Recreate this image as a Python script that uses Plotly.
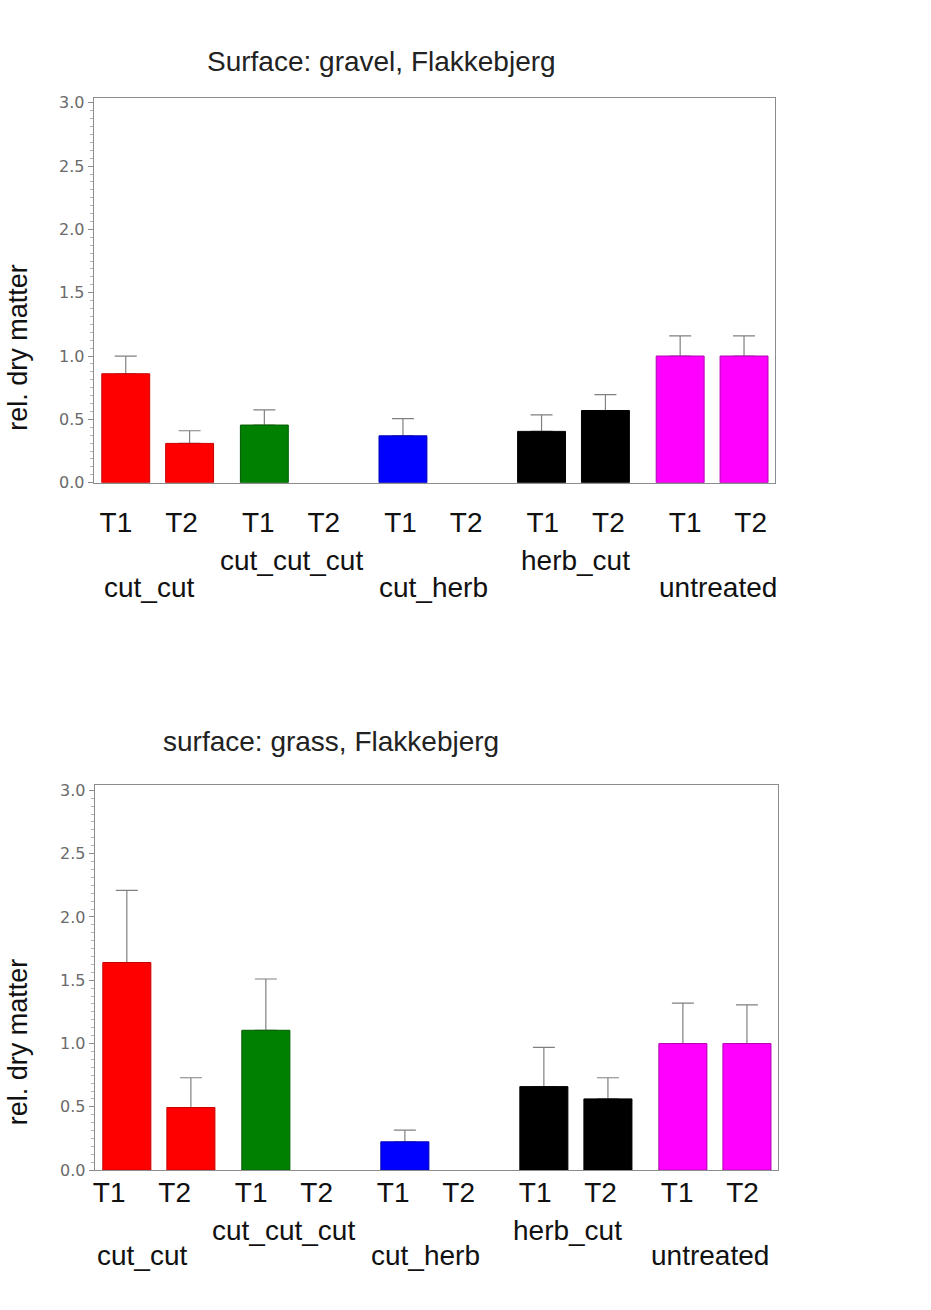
import plotly.graph_objects as go

# ---- data ----
groups = ["cut_cut", "cut_cut_cut", "cut_herb", "herb_cut", "untreated"]
times = ["T1", "T2"]
gravel_mean = [0.86, 0.31, 0.455, None, 0.37, None, 0.405, 0.57, 1.0, 1.0]
gravel_err = [0.14, 0.10, 0.12, None, 0.135, None, 0.13, 0.125, 0.16, 0.16]
grass_mean = [1.64, 0.495, 1.105, None, 0.224, None, 0.66, 0.563, 1.0, 1.0]
grass_err = [0.57, 0.235, 0.405, None, 0.092, None, 0.31, 0.167, 0.32, 0.305]
bar_colors = ["#FF0000", "#FF0000", "#008000", "#008000", "#0000FF", "#0000FF",
              "#000000", "#000000", "#FF00FF", "#FF00FF"]
edge_colors = ["#C80000", "#C80000", "#005A00", "#005A00", "#0000B4", "#0000B4",
               "#000000", "#000000", "#B000B0", "#B000B0"]
titles = ["Surface: gravel, Flakkebjerg", "surface: grass, Flakkebjerg"]
y_ticks = [0.0, 0.5, 1.0, 1.5, 2.0, 2.5, 3.0]

W, H = 931, 1310
GSTEP = 2.17  # group spacing in bar-slot units
xpos = [g * GSTEP + s for g in range(len(groups)) for s in range(len(times))]
xtext = [t for g in groups for t in times]
gcenter = [g * GSTEP + 0.5 for g in range(len(groups))]

FONT = "Liberation Sans, Arial, sans-serif"
TICKFONT = "DejaVu Sans, sans-serif"


def py(ypx):
    """target pixel row -> paper fraction (with small vertical calibration)"""
    return 1 - ((ypx - 3) / 0.99) / H


fig = go.Figure()

panels = [
    dict(mean=gravel_mean, err=gravel_err, title=titles[0],
         xdom=[92 / W, 775 / W], ydom=[py(482), py(96.8)],
         standoff=15, title_xy=(380, 61), ylab_y=346,
         grp_y=[587, 560], lab_scale=1.0266, lab_shift=-0.153),
    dict(mean=grass_mean, err=grass_err, title=titles[1],
         xdom=[93 / W, 778 / W], ydom=[py(1170), py(784.8)],
         standoff=-3, title_xy=(330, 741), ylab_y=1041,
         grp_y=[1255, 1230], lab_scale=1.0214, lab_shift=-0.275),
]

annotations = []
for i, p in enumerate(panels):
    sfx = "" if i == 0 else "2"
    xa, ya = "x" + sfx, "y" + sfx
    # error-bar carrier (drawn first so the real bars hide the lower caps)
    fig.add_trace(go.Bar(
        x=xpos, y=p["mean"], width=0.75,
        marker=dict(color="rgba(0,0,0,0)", line=dict(width=0)),
        error_y=dict(type="data", symmetric=False, array=p["err"],
                     arrayminus=[0 if v is not None else None for v in p["err"]],
                     color="#808080", thickness=1.2, width=11),
        xaxis=xa, yaxis=ya, showlegend=False, hoverinfo="skip",
    ))
    # visible bars
    fig.add_trace(go.Bar(
        x=xpos, y=p["mean"], width=0.75,
        marker=dict(color=bar_colors, line=dict(color=edge_colors, width=1)),
        xaxis=xa, yaxis=ya, showlegend=False,
    ))
    labpos = [v * p["lab_scale"] + p["lab_shift"] for v in xpos]
    fig.update_layout(**{
        "xaxis" + sfx: dict(
            domain=p["xdom"], range=[-0.5, 10.17], anchor=ya,
            tickmode="array", tickvals=labpos, ticktext=xtext,
            ticks="", showline=True, linecolor="#8c8c8c", linewidth=1.2,
            mirror=True, showgrid=False, zeroline=False,
            tickfont=dict(family=FONT, size=28, color="#111"),
            ticklabelstandoff=p["standoff"],
        ),
        "yaxis" + sfx: dict(
            domain=p["ydom"], range=[0, 3.04], anchor=xa,
            tickmode="array", tickvals=y_ticks,
            ticktext=[f"{v:.1f}" for v in y_ticks],
            ticks="outside", ticklen=5, tickcolor="#8c8c8c",
            minor=dict(ticks="outside", ticklen=3, dtick=0.0625, tickcolor="#b4b4b4"),
            showline=True, linecolor="#8c8c8c", linewidth=1.2, mirror=True,
            showgrid=False, zeroline=False,
            tickfont=dict(family=TICKFONT, size=16, color="#6a6a6a"),
        ),
    })
    # title
    annotations.append(dict(
        text=p["title"], xref="paper", yref="paper",
        x=p["title_xy"][0] / W, y=py(p["title_xy"][1]),
        xanchor="center", yanchor="middle", showarrow=False,
        font=dict(family=FONT, size=28, color="#222"),
    ))
    # y label
    annotations.append(dict(
        text="rel. dry matter", xref="paper", yref="paper",
        x=16 / W, y=py(p["ylab_y"]), textangle=-90,
        xanchor="center", yanchor="middle", showarrow=False,
        font=dict(family=FONT, size=27, color="#111"),
    ))
    # group labels (staggered)
    for g, name in enumerate(groups):
        ypx = p["grp_y"][g % 2]
        annotations.append(dict(
            text=name, xref=xa, yref="paper",
            x=gcenter[g] * p["lab_scale"] + p["lab_shift"], y=py(ypx),
            xanchor="center", yanchor="middle", showarrow=False,
            font=dict(family=FONT, size=28, color="#111"),
        ))

fig.update_layout(
    width=W, height=H,
    margin=dict(l=0, r=0, t=0, b=0),
    paper_bgcolor="white", plot_bgcolor="white",
    annotations=annotations, barmode="overlay",
)

fig.write_html("out.html")
